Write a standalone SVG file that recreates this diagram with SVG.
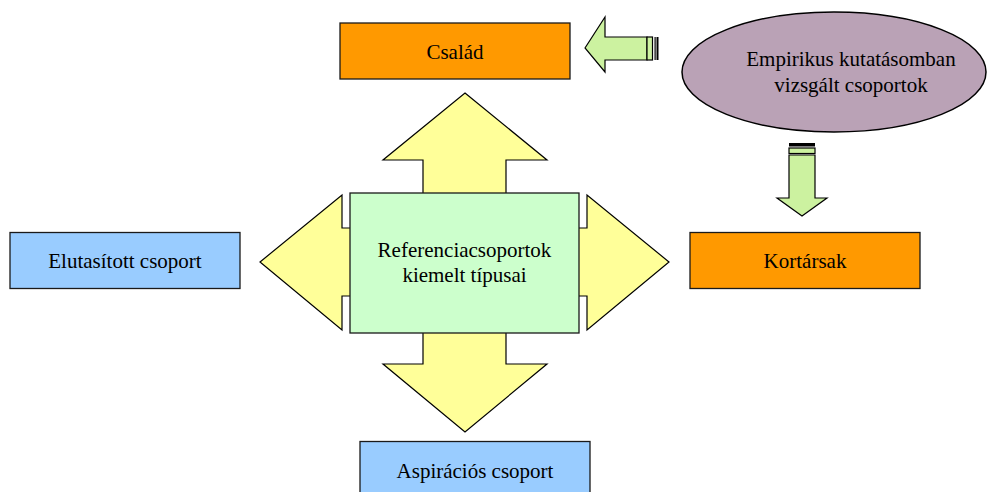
<svg xmlns="http://www.w3.org/2000/svg" width="987" height="492" viewBox="0 0 987 492">
  <style>
    .lbl { font-family: "Liberation Serif", "Times New Roman", serif; font-size: 21px; fill: #000; text-anchor: middle; }
    .box { stroke: #1a1a1a; stroke-width: 1.3; }
    .orange { fill: #FF9900; }
    .blue { fill: #99CCFF; }
    .shape { stroke: #000; stroke-width: 1.2; stroke-linejoin: miter; }
    .yellow { fill: #FFFF99; }
    .lime { fill: #CCF2A0; }
  </style>
  <rect width="987" height="492" fill="#fff"/>

  <!-- four-way arrow behind the central box -->
  <g id="connectors">
    <polygon class="shape yellow" points="465,93 547,160 506,160 506,228 587,228 587,195 669,262 587,330 587,296 506,296 506,364 547,364 465,432 383,364 423,364 423,296 342,296 342,330 260,262 342,195 342,228 423,228 423,160 383,160"/>

    <!-- striped arrow pointing left to Család -->
    <g id="arrow-left">
      <polygon class="shape lime" points="585,48 605,17 605,37 647,37 647,60 605,60 605,72"/>
      <rect class="shape lime" x="647" y="37" width="5.5" height="23"/>
      <rect x="654.5" y="37" width="1.2" height="23" fill="#000"/>
      <rect x="656.5" y="37" width="2" height="23" fill="#000"/>
    </g>

    <!-- striped arrow pointing down to Kortársak -->
    <g id="arrow-down">
      <rect x="789" y="143" width="26" height="3.5" fill="#000"/>
      <rect class="shape lime" x="789" y="148" width="26" height="5.5"/>
      <polygon class="shape lime" points="789,155 815,155 815,198 827,198 802,216 777,198 789,198"/>
    </g>
  </g>

  <g id="center">
    <rect class="box" x="350" y="193" width="229" height="140" fill="#CCFFCC"/>
    <text class="lbl" x="464.5" y="257">Referenciacsoportok</text>
    <text class="lbl" x="464.5" y="282">kiemelt típusai</text>
  </g>

  <g id="csalad">
    <rect class="box orange" x="340" y="23" width="230" height="56"/>
    <text class="lbl" x="455" y="59">Család</text>
  </g>

  <g id="kortarsak">
    <rect class="box orange" x="690" y="232.5" width="230" height="56"/>
    <text class="lbl" x="805" y="268">Kortársak</text>
  </g>

  <g id="elutasitott">
    <rect class="box blue" x="10" y="232.5" width="230" height="56"/>
    <text class="lbl" x="125" y="268">Elutasított csoport</text>
  </g>

  <g id="aspiracios">
    <rect class="box blue" x="360" y="441.5" width="230" height="60"/>
    <text class="lbl" x="475" y="478">Aspirációs csoport</text>
  </g>

  <g id="empirikus">
    <ellipse cx="834" cy="72" rx="152" ry="60" fill="#BAA2B6" stroke="#000" stroke-width="1.5"/>
    <text class="lbl" x="851" y="66">Empirikus kutatásomban</text>
    <text class="lbl" x="851" y="92">vizsgált csoportok</text>
  </g>
</svg>
